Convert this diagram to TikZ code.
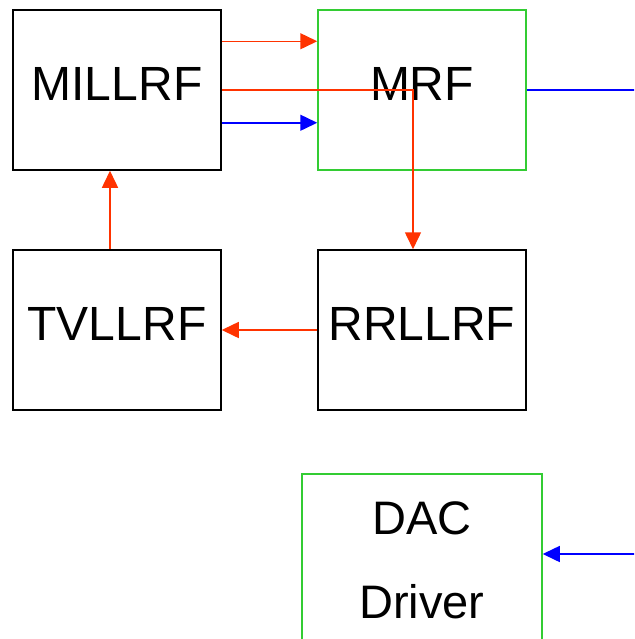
\documentclass[tikz,border=0pt]{standalone}
\usepackage{fontspec}
\setmainfont{Liberation Sans}
\usepackage{tikz}
\usetikzlibrary{positioning,arrows.meta,calc}
\definecolor{sinalverm}{HTML}{FF3300}
\definecolor{sinalazul}{HTML}{0000FF}
\definecolor{bordaverde}{HTML}{33CC33}

\begin{document}
\begin{tikzpicture}[x=0.5pt,y=-0.5pt,
  bloco/.style={draw=black,line width=0.75pt,minimum width=104pt,minimum height=80pt,inner sep=0pt,font=\fontsize{24}{28}\selectfont},
  blocoverde/.style={bloco,draw=bordaverde},
  seta/.style={line width=0.75pt,-{Triangle[length=8.5pt,width=8pt]}}]
\clip (0,0) rectangle (634,639);
\foreach \nome/\pos/\txt in {mill/{(117,90)}/MILLRF,tv/{(117,330)}/TVLLRF,rr/{(422,330)}/RRLLRF}
  \node[bloco,text height=15pt,text depth=5pt] (\nome) at \pos {\txt};
\node[blocoverde,text height=15pt,text depth=5pt] (mrf) at (422,90) {MRF};
\node[blocoverde,minimum width=120pt,minimum height=86pt,align=center,font=\fontsize{23.5}{28}\selectfont] (dac) at (422,560) {DAC\\[14pt]Driver};
\coordinate (saidaR) at (640,90);
\coordinate (entraR) at (640,554);
% sinais entre os blocos
\draw[seta,sinalverm] ([yshift=-16pt]mill.north east) -- ([yshift=-16pt]mrf.north west);
\draw[seta,sinalazul] ([yshift=24pt]mill.south east) -- ([yshift=24pt]mrf.south west);
\draw[seta,sinalverm] (mill.east) -| ([xshift=-4.5pt]rr.north);
\draw[seta,sinalverm] ([xshift=-3.5pt]tv.north) -- ([xshift=-3.5pt]mill.south);
\draw[seta,sinalverm] (rr.west) -- (tv.east);
\draw[line width=0.75pt,sinalazul] (mrf.east) -- (saidaR);
\draw[seta,sinalazul] (entraR) -- (dac.east |- entraR);
\end{tikzpicture}
\end{document}
